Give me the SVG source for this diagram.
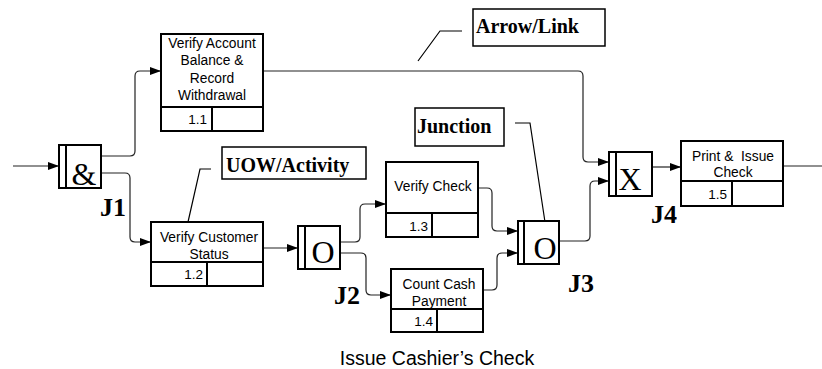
<svg xmlns="http://www.w3.org/2000/svg" width="822" height="369" viewBox="0 0 822 369">
<style>
.box{fill:#fff;stroke:#000;stroke-width:2}
.div{stroke:#000;stroke-width:2;fill:none}
.con{fill:none;stroke:#222;stroke-width:1.2}
.lead{fill:none;stroke:#000;stroke-width:1.2}
.t{font-family:"Liberation Sans",Arial,sans-serif;font-size:13.8px;fill:#000;text-anchor:middle}
.n{font-family:"Liberation Sans",Arial,sans-serif;font-size:13.5px;fill:#000;text-anchor:end}
.sym{font-family:"Liberation Serif","Times New Roman",serif;font-size:32px;fill:#000;text-anchor:middle}
.jl{font-family:"Liberation Serif","Times New Roman",serif;font-size:26px;font-weight:bold;fill:#000}
.cl{font-family:"Liberation Serif","Times New Roman",serif;font-size:20px;font-weight:bold;fill:#000}
.ttl{font-family:"Liberation Sans",Arial,sans-serif;font-size:19.5px;fill:#000;text-anchor:middle}
</style>
<defs>
<marker id="ah" markerUnits="userSpaceOnUse" markerWidth="12" markerHeight="10" refX="11" refY="4" orient="auto">
<path d="M0,0 L11,4 L0,8 z" fill="#000"/>
</marker>
</defs>

<g id="connectors">
<path class="con" d="M13,166 H59" marker-end="url(#ah)"/>
<path class="con" d="M101,156 H130 Q135,156 135,151 V76 Q135,71 140,71 H161" marker-end="url(#ah)"/>
<path class="con" d="M101,173 H125 Q130,173 130,178 V237 Q130,242 135,242 H151" marker-end="url(#ah)"/>
<path class="con" d="M263,248 H298" marker-end="url(#ah)"/>
<path class="con" d="M340,242 H355 Q360,242 360,237 V209 Q360,204 365,204 H386" marker-end="url(#ah)"/>
<path class="con" d="M340,253 H361 Q366,253 366,258 V290 Q366,295 371,295 H391" marker-end="url(#ah)"/>
<path class="con" d="M478,188 H487 Q492,188 492,193 V226 Q492,231 497,231 H518" marker-end="url(#ah)"/>
<path class="con" d="M483,290 H492 Q497,290 497,285 V258 Q497,253 502,253 H518" marker-end="url(#ah)"/>
<path class="con" d="M559,241 H585 Q590,241 590,236 V186 Q590,181 595,181 H609" marker-end="url(#ah)"/>
<path class="con" d="M263,71 H578 Q583,71 583,76 V157 Q583,162 588,162 H609" marker-end="url(#ah)"/>
<path class="con" d="M652,167 H681" marker-end="url(#ah)"/>
<path class="con" d="M783,166 H822"/>
</g>

<g id="callouts">
<path class="lead" d="M211,169 H200 L188,222"/>
<path class="lead" d="M462,31 H440 L418,61"/>
<path class="lead" d="M515,123 H530 L545,222"/>
</g>

<g id="node-1-1">
<rect class="box" x="161" y="34" width="102" height="97"/>
<path class="div" d="M161,107 H263 M212,107 V131"/>
<text class="t" x="212" y="48">Verify Account</text>
<text class="t" x="212" y="65">Balance &amp;</text>
<text class="t" x="212" y="83">Record</text>
<text class="t" x="212" y="100">Withdrawal</text>
<text class="n" x="207" y="124">1.1</text>
</g>

<g id="node-1-2">
<rect class="box" x="151" y="222" width="112" height="64"/>
<path class="div" d="M151,262 H263 M207,262 V286"/>
<text class="t" x="209" y="242">Verify Customer</text>
<text class="t" x="209" y="259">Status</text>
<text class="n" x="203" y="279">1.2</text>
</g>

<g id="node-1-3">
<rect class="box" x="386" y="162" width="92" height="75"/>
<path class="div" d="M386,213 H478 M432,213 V237"/>
<text class="t" x="433" y="191">Verify Check</text>
<text class="n" x="428" y="231">1.3</text>
</g>

<g id="node-1-4">
<rect class="box" x="391" y="269" width="92" height="63"/>
<path class="div" d="M391,309 H483 M437,309 V332"/>
<text class="t" x="439" y="289">Count Cash</text>
<text class="t" x="439" y="306">Payment</text>
<text class="n" x="433" y="326">1.4</text>
</g>

<g id="node-1-5">
<rect class="box" x="681" y="141" width="102" height="65"/>
<path class="div" d="M681,181 H783 M732,181 V206"/>
<text class="t" x="733" y="161" xml:space="preserve">Print &amp;  Issue</text>
<text class="t" x="733" y="177">Check</text>
<text class="n" x="727" y="199">1.5</text>
</g>

<g id="junction-J1">
<rect class="box" x="59" y="145" width="42" height="43"/>
<path class="div" d="M66,145 V188"/>
<text class="sym" x="84" y="185">&amp;</text>
<text class="jl" x="100" y="216">J1</text>
</g>

<g id="junction-J2">
<rect class="box" x="298" y="226" width="42" height="43"/>
<path class="div" d="M305,226 V269"/>
<text class="sym" x="323" y="263">O</text>
<text class="jl" x="334" y="304">J2</text>
</g>

<g id="junction-J3">
<rect class="box" x="518" y="221" width="41" height="43"/>
<path class="div" d="M524,221 V264"/>
<text class="sym" x="545" y="259">O</text>
<text class="jl" x="568" y="292">J3</text>
</g>

<g id="junction-J4">
<rect class="box" x="609" y="152" width="43" height="44"/>
<path class="div" d="M616,152 V196"/>
<text class="sym" x="630" y="190">X</text>
<text class="jl" x="651" y="223">J4</text>
</g>

<g id="label-uow">
<rect class="box" x="222" y="147" width="144" height="32" style="stroke-width:1.5"/>
<text class="cl" x="226" y="172">UOW/Activity</text>
</g>

<g id="label-arrow">
<rect class="box" x="473" y="9" width="132" height="37" style="stroke-width:1.5"/>
<text class="cl" x="476" y="33">Arrow/Link</text>
</g>

<g id="label-junction">
<rect class="box" x="415" y="108" width="89" height="38" style="stroke-width:1.5"/>
<text class="cl" x="417" y="133">Junction</text>
</g>

<text class="ttl" x="437" y="365">Issue Cashier’s Check</text>
</svg>
